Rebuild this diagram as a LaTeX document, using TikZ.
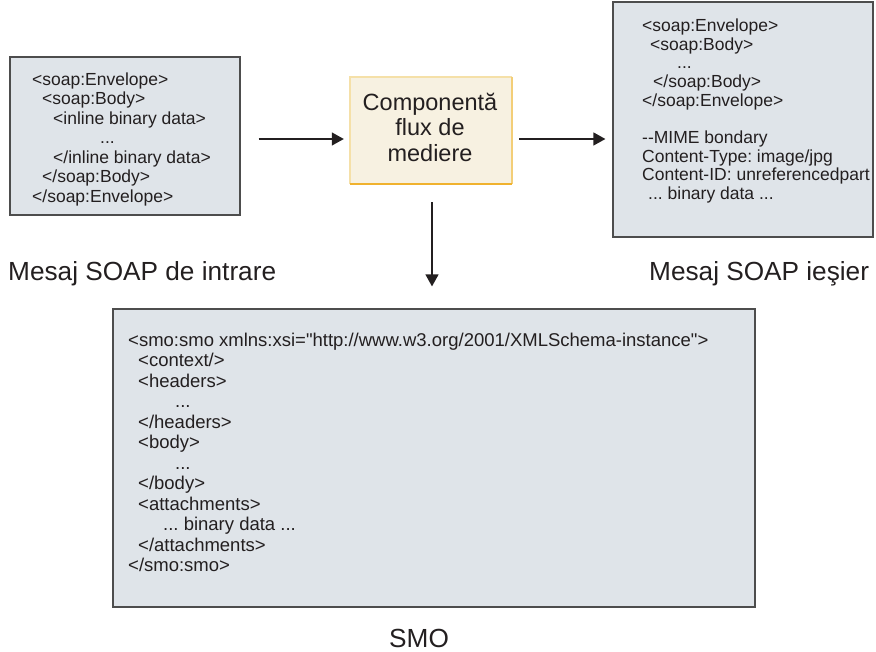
\documentclass[tikz,border=0pt]{standalone}
\usepackage{fontspec}
\setmainfont{Liberation Sans}[Ligatures=TeXOff]
\usetikzlibrary{arrows.meta,calc}
\frenchspacing
\definecolor{boxfill}{RGB}{223,228,233}
\definecolor{boxline}{RGB}{77,77,77}
\definecolor{txt}{RGB}{35,31,32}
\definecolor{cfill}{RGB}{247,241,225}
\definecolor{cedgelight}{RGB}{245,224,168}
\definecolor{cedgedark}{RGB}{240,178,46}
\tikzset{
  msgbox/.style={draw=boxline, line width=1.2pt, fill=boxfill, inner sep=0pt},
  code/.style={anchor=north west, inner sep=0pt, align=left, text=txt},
  lbl/.style={anchor=base west, inner sep=0pt, text=txt, font=\fontsize{26.2}{30}\selectfont},
  arr/.style={draw=txt, line width=1.3pt, -{Triangle[length=12pt,width=13pt]}},
}
\begin{document}
\begin{tikzpicture}[x=1pt,y=-1pt]
\useasboundingbox (0,0) rectangle (876,652);
% boxes
\node[msgbox, minimum width=230pt, minimum height=158pt] (lbox) at (125,136) {};
\node[msgbox, minimum width=260pt, minimum height=235pt] (rbox) at (743,119.5) {};
\node[msgbox, minimum width=642pt, minimum height=298pt] (smo) at (434,458) {};
\node[fill=cfill, minimum width=162pt, minimum height=107pt, inner sep=0pt] (cbox) at (431,130.5) {};
\draw[cedgelight, line width=1.5pt] (cbox.south west) -- (cbox.north west) -- (cbox.north east);
\draw[cedgelight!60!cedgedark, line width=1.5pt] (cbox.north east) -- (cbox.south east);
\draw[cedgedark, line width=2.5pt] (cbox.south west) -- (cbox.south east);
\node[text=txt, align=center, font=\fontsize{23.5}{25.5}\selectfont, inner sep=0pt] (ctext) at (430,127) {Componentă\\flux de\\mediere};
% code texts
\node[code, font=\fontsize{17.5}{19.5}\selectfont\frenchspacing] (ltext) at (32,72.5) {%
<soap:Envelope>\\
\hspace*{10pt}<soap:Body>\\
\hspace*{21pt}<inline binary data>\\
\hspace*{68pt}...\\
\hspace*{21pt}</inline binary data>\\
\hspace*{10pt}</soap:Body>\\
</soap:Envelope>};
\node[code, font=\fontsize{17.5}{18.7}\selectfont\frenchspacing] (rtext) at (642,18.5) {%
<soap:Envelope>\\
\hspace*{8pt}<soap:Body>\\
\hspace*{35pt}...\\
\hspace*{11pt}</soap:Body>\\
</soap:Envelope>\\[18.7pt]
{-}{-}MIME bondary\\
Content-Type: image/jpg\\
Content-ID: unreferencedpart\\
\hspace*{6pt}... binary data ...};
\node[code, font=\fontsize{18.5}{20.5}\selectfont\frenchspacing] (stext) at (128,332.8) {%
<smo:smo xmlns:xsi="http://www.w3.org/2001/XMLSchema-instance">\\
\hspace*{10pt}<context/>\\
\hspace*{10pt}<headers>\\
\hspace*{47pt}...\\
\hspace*{10pt}</headers>\\
\hspace*{10pt}<body>\\
\hspace*{47pt}...\\
\hspace*{10pt}</body>\\
\hspace*{10pt}<attachments>\\
\hspace*{35pt}... binary data ...\\
\hspace*{10pt}</attachments>\\
</smo:smo>};
% labels
\node[lbl] (lin) at (8,281) {Mesaj SOAP de intrare};
\node[lbl] (lout) at (649,281) {Mesaj SOAP ieşier};
\node[lbl] (lsmo) at (389,647) {SMO};
% arrows
\coordinate (ay) at (0,139);
\draw[arr, shorten <=18pt, shorten >=6pt] (lbox.east |- ay) -- (cbox.west |- ay);
\draw[arr, shorten <=7pt, shorten >=7pt] (cbox.east |- ay) -- (rbox.west |- ay);
\coordinate (ax) at (432,0);
\draw[arr, shorten <=18pt, shorten >=22pt] (ax |- cbox.south) -- (ax |- smo.north);
\end{tikzpicture}
\end{document}
